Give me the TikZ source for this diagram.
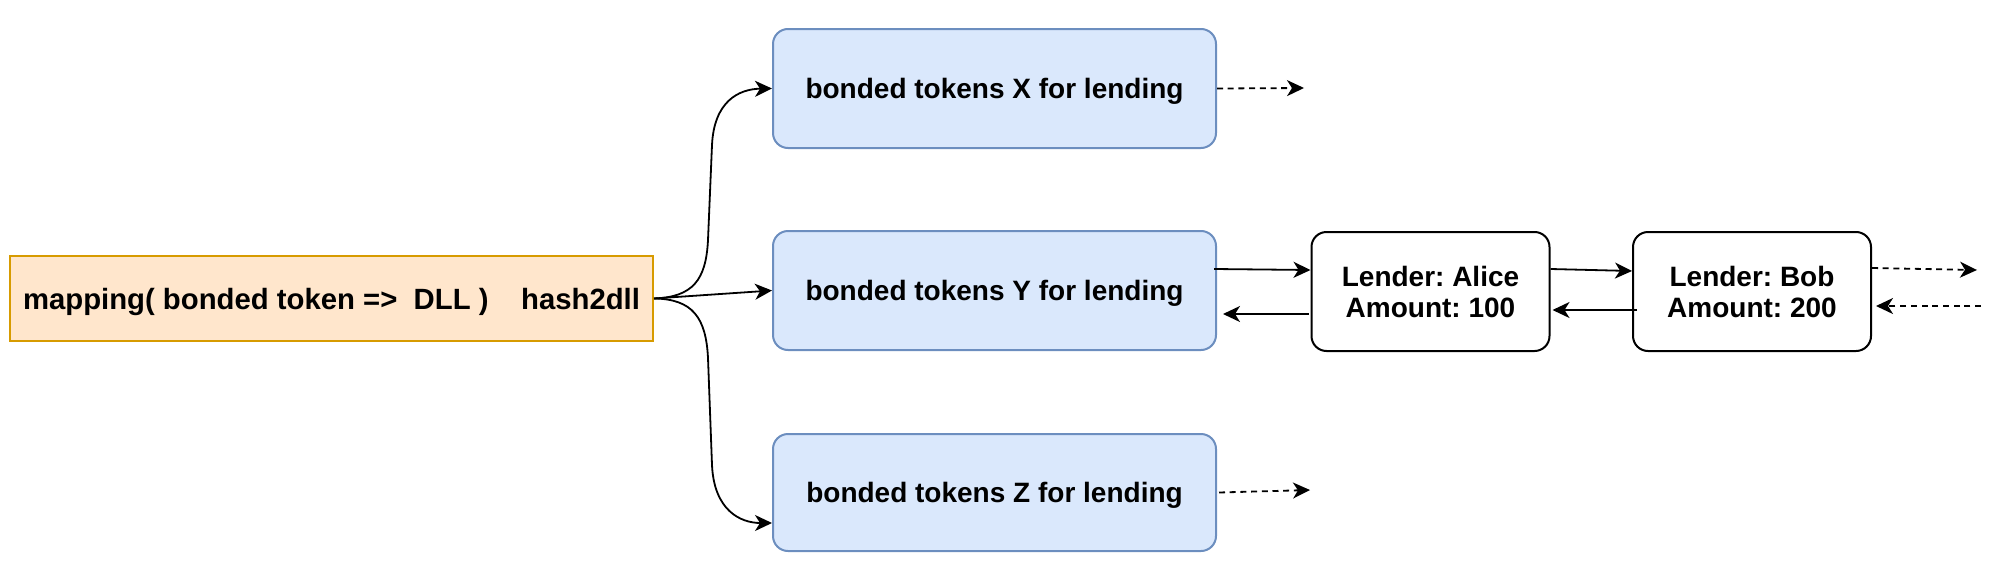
\documentclass[tikz,border=0pt]{standalone}
\usepackage{fontspec}
\setmainfont{Liberation Sans}
\usetikzlibrary{arrows.meta}
\definecolor{bluefill}{HTML}{DAE8FC}
\definecolor{bluedraw}{HTML}{6C8EBF}
\definecolor{orfill}{HTML}{FFE6CC}
\definecolor{ordraw}{HTML}{D79B00}
\frenchspacing
\begin{document}
\begin{tikzpicture}[x=1pt,y=-1pt,
  txt/.style={font=\fontsize{28}{31}\selectfont\bfseries\frenchspacing, align=center, inner sep=0pt},
  bluebox/.style={txt, text depth=0pt, draw=bluedraw, fill=bluefill, line width=2pt, rounded corners=15pt, minimum width=443pt, minimum height=119pt},
  orbox/.style={txt, font=\fontsize{29.3}{33}\selectfont\bfseries\frenchspacing, text depth=0pt, draw=ordraw, fill=orfill, line width=2pt, minimum width=643pt, minimum height=85pt},
  lendbox/.style={txt, draw=black, fill=white, line width=2pt, rounded corners=15pt, minimum width=238pt, minimum height=119pt},
  arr/.style={line width=1.8pt, -{Stealth[length=17pt,width=16pt,inset=5pt]}},
  darr/.style={arr, dash pattern=on 6pt off 4.7pt}
]
\useasboundingbox (0,0) rectangle (2000,570);
\node[orbox] (o) at (331.5,298.5) {mapping( bonded token =>\ \ DLL )\ \ \ \ hash2dll};
\node[bluebox] (X) at (994.5,88.5) {bonded tokens X for lending};
\node[bluebox] (Y) at (994.5,290.5) {bonded tokens Y for lending};
\node[bluebox, minimum height=117pt] (Z) at (994.5,492.5) {bonded tokens Z for lending};
\node[lendbox] (A) at (1430.5,291.5) {Lender: Alice\\Amount: 100};
\node[lendbox] (B) at (1752,291.5) {Lender: Bob\\Amount: 200};
\coordinate (xe) at (1304,88);
\coordinate (ze) at (1310,490);
\coordinate (be) at (1977,270);
\coordinate (bs) at (1981,306);
% curves
\draw[arr] (o.east) .. controls (693,297) and (706,280) .. (708,240) -- (712,145) .. controls (714,102) and (738,89) .. (X.west);
\draw[arr] (o.east) -- (Y.west);
\draw[arr] (o.east) .. controls (693,299) and (706,318) .. (708,358) -- (712,465) .. controls (714,510) and (740,523) .. ([yshift=-30.5pt]Z.west);
% dashed
\draw[darr] (X.east) -- (xe);
\draw[darr] ([xshift=2pt]Z.east) -- (ze);
% chain
\draw[arr] ([xshift=-3pt,yshift=21.5pt]Y.east) -- ([yshift=21.5pt]A.west);
\draw[arr] ([xshift=-2pt,yshift=-22.5pt]A.west) -- ([xshift=6pt,yshift=-23.5pt]Y.east);
\draw[arr] ([yshift=22.5pt]A.east) -- ([yshift=20.5pt]B.west);
\draw[arr] ([xshift=5pt,yshift=-18.5pt]B.west) -- ([xshift=2pt,yshift=-18.5pt]A.east);
\draw[darr] ([yshift=23.5pt]B.east) -- (be);
\draw[darr] (bs) -- ([xshift=4pt,yshift=-14.5pt]B.east);
\end{tikzpicture}
\end{document}
